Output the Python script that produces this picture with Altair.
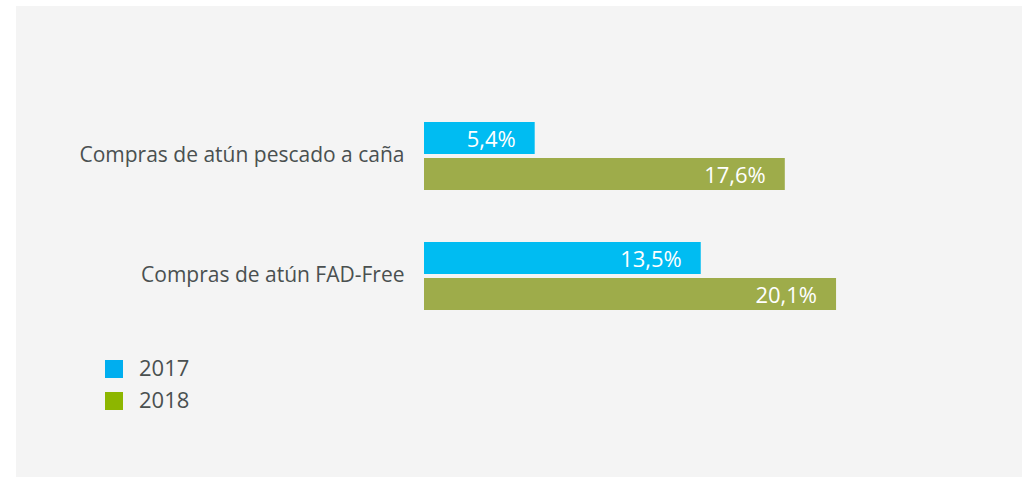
import altair as alt
import pandas as pd

categories = ["Compras de atún pescado a caña", "Compras de atún FAD-Free"]
years = ["2017", "2018"]
values_2017 = [5.4, 13.5]
values_2018 = [17.6, 20.1]

bar_colors = ["#00BCF2", "#9EAC4A"]
legend_colors = ["#00AEEF", "#8DB600"]
FONT = "Open Sans"
TXT = "#4A5050"

rows = []
for c, v17, v18 in zip(categories, values_2017, values_2018):
    for y, v in (("2017", v17), ("2018", v18)):
        rows.append({"cat": c, "year": y, "value": v,
                     "label": f"{v:.1f}".replace(".", ",") + "%"})
df = pd.DataFrame(rows)

W, H = 574, 272
x = alt.X("value:Q", scale=alt.Scale(domain=[0, 28], nice=False), axis=None)
y = alt.Y("cat:N", sort=categories, title=None,
          scale=alt.Scale(paddingInner=0.433, paddingOuter=0.35),
          axis=alt.Axis(domain=False, ticks=False, grid=False, labelFont=FONT,
                        labelFontSize=21, labelColor=TXT, labelPadding=20,
                        labelLimit=600))
yoff = alt.YOffset("year:N", sort=years,
                   scale=alt.Scale(paddingInner=0.111, paddingOuter=0))

one = pd.DataFrame({"a": [0]})
strip_left = alt.Chart(one).mark_rect(color="white").encode(
    x=alt.value(-424), x2=alt.value(16 - 424), y=alt.value(-80), y2=alt.value(477 - 80))
strip_top = alt.Chart(one).mark_rect(color="white").encode(
    x=alt.value(-424), x2=alt.value(1022 - 424), y=alt.value(-80), y2=alt.value(6 - 80))

bars = alt.Chart(df).mark_bar().encode(
    x=x, y=y, yOffset=yoff,
    color=alt.Color("year:N", scale=alt.Scale(domain=years, range=bar_colors),
                    legend=None))

legend_layer = alt.Chart(df).mark_bar(opacity=0).encode(
    x=x, y=y, yOffset=yoff,
    color=alt.Color("year:N", scale=alt.Scale(domain=years, range=legend_colors),
                    legend=alt.Legend(title=None, orient="none", legendX=103 - 424,
                                      legendY=358 - 80, symbolType="square",
                                      symbolSize=324, symbolStrokeWidth=0,
                                      symbolOpacity=1,
                                      labelFont=FONT, labelFontSize=22,
                                      labelColor=TXT, labelOffset=14,
                                      rowPadding=10, padding=0)))

texts = alt.Chart(df).mark_text(align="right", baseline="middle", dx=-19, dy=2,
                                color="white", font=FONT, fontSize=22).encode(
    x=x, y=y, yOffset=yoff, text="label:N")

chart = alt.layer(strip_left, strip_top, bars, legend_layer, texts).resolve_scale(
    color="independent"
).properties(
    width=W, height=H,
    autosize=alt.AutoSizeParams(type="none"),
    padding={"left": 424, "top": 80, "right": 1022 - 424 - W, "bottom": 477 - 80 - H},
    background="#F4F4F4",
).configure_view(stroke=None)

chart.save("out.html", embed_options={"renderer": "svg", "actions": False})
